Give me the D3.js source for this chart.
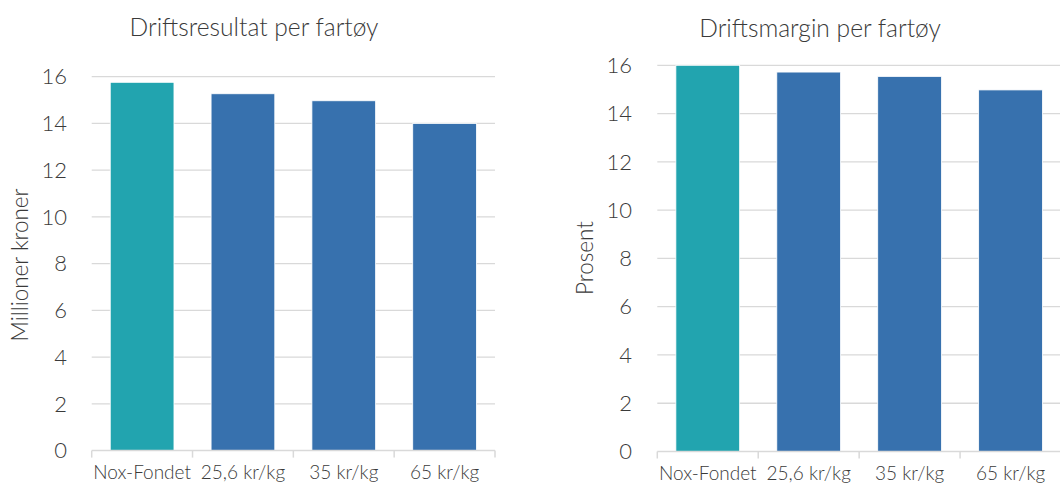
<!DOCTYPE html>
<html>
<head>
<meta charset="utf-8">
<script src="https://cdn.jsdelivr.net/npm/d3@7/dist/d3.min.js"></script>
<style>
  html, body { margin: 0; padding: 0; background: #fff; }
  svg text { font-family: Lato, "Open Sans", sans-serif; fill: #3a3a3a; }
</style>
</head>
<body>
<svg id="chart" width="1060" height="489"></svg>
<script>
// Kategorier og verdier
const categories = ["Nox-Fondet", "25,6 kr/kg", "35 kr/kg", "65 kr/kg"];
const driftsresultat = [15.76, 15.27, 14.97, 14.0];   // millioner kroner
const driftsmargin = [16.0, 15.72, 15.54, 14.98];     // prosent
const yTicks = [0, 2, 4, 6, 8, 10, 12, 14, 16];
const barColors = ["#22a4af", "#3771ae", "#3771ae", "#3771ae"];

const svg = d3.select("#chart");

const panels = [
  { title: "Driftsresultat per fartøy", yLabel: "Millioner kroner", values: driftsresultat,
    x0: 91.7, x1: 495, yTop: 76.7, yBottom: 450.6, titleX: 254, titleY: 36,
    yLabelX: 28, yLabelY: 265, tickX: 67 },
  { title: "Driftsmargin per fartøy", yLabel: "Prosent", values: driftsmargin,
    x0: 657.3, x1: 1061, yTop: 65.3, yBottom: 451.5, titleX: 820, titleY: 37,
    yLabelX: 593, yLabelY: 258, tickX: 632 }
];

panels.forEach(p => {
  const g = svg.append("g");
  const x = d3.scaleBand().domain(categories).range([p.x0, p.x1])
    .paddingInner(0.368).paddingOuter(0.184);
  const y = d3.scaleLinear().domain([0, 16]).range([p.yBottom, p.yTop]);

  // Rutenett
  g.append("g").selectAll("line").data(yTicks.filter(t => t > 0)).join("line")
    .attr("x1", p.x0).attr("x2", p.x1)
    .attr("y1", d => y(d)).attr("y2", d => y(d))
    .attr("stroke", "#d9d9d9").attr("stroke-width", 1.3);

  // Søyler
  g.append("g").selectAll("rect").data(p.values).join("rect")
    .attr("x", (d, i) => x(categories[i]))
    .attr("width", x.bandwidth())
    .attr("y", d => y(d))
    .attr("height", d => y(0) - y(d))
    .attr("fill", (d, i) => barColors[i])
    .attr("stroke", "#ffffff").attr("stroke-width", 0.8);

  // Y-akse tall
  g.append("g").selectAll("text").data(yTicks).join("text")
    .attr("x", p.tickX).attr("y", d => y(d))
    .attr("dy", "0.35em").attr("text-anchor", "end")
    .attr("font-size", 22).attr("font-weight", 300)
    .text(d => d);

  // X-akse
  const xAxis = d3.axisBottom(x).tickSize(0).tickPadding(10);
  const ax = g.append("g").attr("transform", `translate(0,${y(0)})`).call(xAxis);
  ax.select(".domain").remove();
  ax.selectAll("text").attr("font-size", 19).attr("font-weight", 300)
    .attr("font-family", "Lato, 'Open Sans', sans-serif").attr("fill", "#3a3a3a")
    .attr("dy", "0.95em");
  g.append("line").attr("x1", p.x0).attr("x2", p.x1)
    .attr("y1", y(0)).attr("y2", y(0))
    .attr("stroke", "#d9d9d9").attr("stroke-width", 1.5);
  g.append("g").selectAll("line").data(d3.range(categories.length + 1)).join("line")
    .attr("x1", i => p.x0 + i * (p.x1 - p.x0) / categories.length)
    .attr("x2", i => p.x0 + i * (p.x1 - p.x0) / categories.length)
    .attr("y1", y(0)).attr("y2", y(0) + 7)
    .attr("stroke", "#d9d9d9").attr("stroke-width", 1.5);

  // Tittel
  g.append("text").attr("x", p.titleX).attr("y", p.titleY)
    .attr("text-anchor", "middle").attr("font-size", 24.6).attr("font-weight", 300)
    .text(p.title);

  // Y-akse tittel
  g.append("text")
    .attr("transform", `translate(${p.yLabelX},${p.yLabelY}) rotate(-90)`)
    .attr("text-anchor", "middle").attr("font-size", 22.5).attr("font-weight", 300)
    .text(p.yLabel);
});
</script>
</body>
</html>
